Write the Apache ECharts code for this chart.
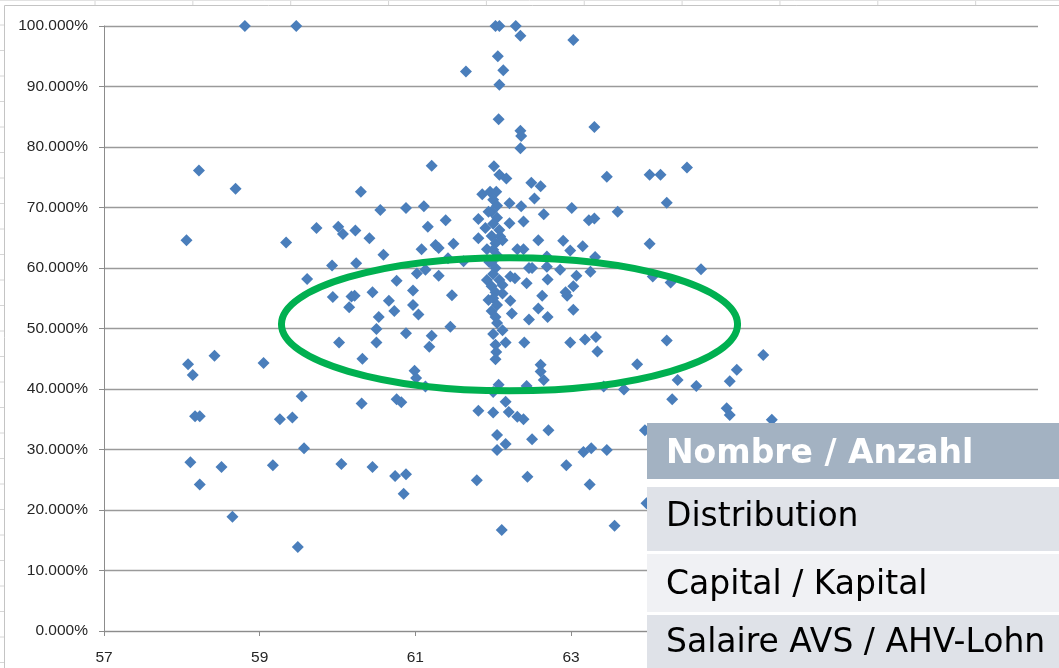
<!DOCTYPE html>
<html><head><meta charset="utf-8">
<script src="https://cdn.jsdelivr.net/npm/echarts@6/dist/echarts.min.js"></script>
<style>html,body{margin:0;padding:0;background:#fff}#c{width:1059px;height:668px}</style>
</head><body><div id="c"></div>
<script>
// Axis ranges
const xMin = 57, xMax = 69, xStep = 2;
const yMin = 0, yMax = 100, yStep = 10;

// Scatter values [age, share %]
const topPoints = [[58.81,100.0],[59.47,100.0],[62.03,100.0],[62.08,100.0],[62.29,100.0],[62.35,98.4],[63.03,97.7],[61.65,92.5],[62.06,95.0],[62.13,92.7],[62.08,90.3],[62.07,84.6],[62.35,82.7],[62.36,81.8],[62.35,79.8],[63.30,83.3]];
const upperPoints = [[62.01,76.8],[62.08,75.4],[62.17,74.8],[62.49,74.1],[62.61,73.5],[62.53,71.5],[63.46,75.1],[64.01,75.4],[64.15,75.4],[64.49,76.6],[64.23,70.8],[61.86,72.2],[61.96,72.6],[62.04,72.6],[62.21,70.7],[62.36,70.2],[63.01,69.9],[63.60,69.3],[62.65,68.9],[61.81,68.1],[61.90,66.6],[62.21,67.4],[62.39,67.7],[63.23,67.9],[63.30,68.2],[61.81,64.9],[62.09,65.2],[62.58,64.6],[62.90,64.5],[62.99,62.9],[63.15,63.6],[64.01,64.0],[62.31,63.1],[62.39,63.1],[61.92,63.1],[62.69,61.9],[63.31,61.8],[62.46,60.0],[62.50,60.0],[62.69,60.2],[62.86,59.7],[63.25,59.4],[62.22,58.6],[62.28,58.3],[62.70,58.1],[63.07,58.7],[64.05,58.6],[64.28,57.6],[64.67,59.8],[62.43,57.5],[63.03,57.0],[62.63,55.4],[62.95,55.4],[62.93,56.0],[62.22,54.6],[62.58,53.3],[62.24,52.5],[62.46,51.5],[62.70,51.9],[63.03,53.1]];
const lowerRightPoints = [[62.40,47.7],[62.99,47.7],[63.18,48.2],[63.32,48.6],[63.34,46.2],[64.23,48.0],[62.61,44.0],[62.61,42.9],[62.65,41.5],[63.85,44.1],[65.47,45.6],[65.13,43.2],[65.04,41.3],[64.37,41.5],[64.61,40.5],[63.42,40.4],[63.68,39.9],[62.43,40.5],[64.30,38.3],[65.00,36.8],[65.04,35.7],[65.58,34.9],[61.81,36.4],[62.16,37.9],[62.20,36.2],[62.31,35.4],[62.39,35.0],[62.71,33.2],[62.50,31.7],[63.16,29.6],[63.26,30.2],[63.46,29.9],[62.94,27.4],[61.79,24.9],[62.44,25.5],[63.24,24.2],[62.11,16.7],[63.56,17.4],[63.95,33.2],[63.97,21.1],[62.16,30.9],[62.05,32.4],[62.05,29.9],[62.00,36.1],[62.07,40.7],[62.16,47.7]];
const columnPoints = [[62.00,71.3],[62.05,70.3],[61.98,69.3],[61.94,69.3],[62.05,68.3],[62.00,67.3],[62.08,66.3],[61.98,65.3],[62.03,64.1],[62.12,64.6],[62.00,63.0],[62.06,62.0],[61.98,61.0],[61.95,61.0],[62.03,60.0],[62.00,59.0],[62.08,58.0],[61.92,58.0],[61.98,57.0],[62.12,57.2],[62.03,56.0],[62.12,55.8],[62.00,55.0],[61.94,54.7],[62.05,53.9],[61.98,52.9],[62.03,51.9],[62.05,50.9],[62.00,49.1],[62.12,49.7],[62.03,47.3],[62.04,46.1],[62.03,44.9],[62.00,39.5]];
const leftPoints = [[58.22,76.1],[58.69,73.1],[61.21,76.9],[60.30,72.6],[58.06,64.6],[59.34,64.2],[59.73,66.6],[60.01,66.8],[60.07,65.6],[60.23,66.2],[60.41,64.9],[60.55,69.6],[60.88,69.9],[61.11,70.2],[61.16,66.8],[61.39,67.9],[60.59,62.2],[61.08,63.1],[61.26,63.8],[61.30,63.3],[61.49,64.0],[59.93,60.4],[60.24,60.8],[59.61,58.2],[60.76,57.9],[61.02,59.1],[61.13,59.7],[61.30,58.7],[59.94,55.2],[60.18,55.3],[60.22,55.4],[60.15,53.5],[60.45,56.0],[60.66,54.6],[60.73,52.9],[60.97,56.3],[60.97,53.9],[61.04,52.3],[60.53,51.9],[61.47,55.5],[61.45,50.3],[60.50,49.9],[60.88,49.2],[60.50,47.7],[60.02,47.7],[61.21,48.8],[61.18,47.0],[60.32,45.0],[60.99,43.0],[61.01,41.8],[61.13,40.4],[59.54,38.8],[59.26,35.0],[59.42,35.3],[58.17,35.5],[58.23,35.5],[60.31,37.6],[60.76,38.3],[60.82,37.8],[58.08,44.1],[58.14,42.3],[58.42,45.5],[59.05,44.3],[58.11,27.9],[58.23,24.2],[58.51,27.1],[59.17,27.4],[59.57,30.2],[60.05,27.6],[60.45,27.1],[60.74,25.6],[60.88,25.9],[60.85,22.7],[58.65,18.9],[59.49,13.9],[61.62,61.1],[61.42,61.6]];

// Highlight ellipse (data units)
const highlight = {cx: 62.21, cy: 50.7, rx: 2.93, ry: 11.0};

// Overlay table
const tableRows = ['Nombre / Anzahl', 'Distribution', 'Capital / Kapital', 'Salaire AVS / AHV-Lohn'];

const allPoints = [].concat(topPoints, upperPoints, lowerRightPoints, columnPoints, leftPoints);

const chart = echarts.init(document.getElementById('c'), null, {renderer: 'canvas'});
const axisColor = '#8c8c8c';
const labelFont = {color: '#262626', fontFamily: 'Liberation Sans', fontSize: 15.5};
chart.setOption({
  animation: false,
  backgroundColor: '#ffffff',
  grid: {left: 104, top: 26, width: 934, height: 605},
  xAxis: {
    type: 'value', min: xMin, max: xMax, interval: xStep,
    axisLine: {show: true, onZero: false, lineStyle: {color: axisColor, width: 1}},
    axisTick: {show: true, length: 5, lineStyle: {color: axisColor}},
    axisLabel: Object.assign({margin: 19}, labelFont),
    splitLine: {show: false}
  },
  yAxis: {
    type: 'value', min: yMin, max: yMax, interval: yStep,
    axisLine: {show: true, onZero: false, lineStyle: {color: axisColor, width: 1}},
    axisTick: {show: true, length: 5, lineStyle: {color: axisColor}},
    axisLabel: Object.assign({margin: 16, formatter: v => v.toFixed(3) + '%'}, labelFont),
    splitLine: {show: true, lineStyle: {color: '#9a9a9a', width: 1.3}}
  },
  series: [{
    type: 'scatter', data: allPoints, symbol: 'diamond', symbolSize: 12,
    itemStyle: {color: '#4a7ebb', opacity: 1}, z: 3
  }]
});

const p0 = chart.convertToPixel({gridIndex: 0}, [highlight.cx, highlight.cy]);
const p1 = chart.convertToPixel({gridIndex: 0}, [highlight.cx + highlight.rx, highlight.cy + highlight.ry]);

const graphics = [];
// Excel sheet cell lines around chart frame
for (let i = 0; i < 11; i++) {
  const x = 95 + 97.85 * i;
  graphics.push({type: 'line', shape: {x1: x, y1: 0, x2: x, y2: 5}, style: {stroke: '#d6d6d6', lineWidth: 1}, silent: true});
}
for (let k = 0; k < 26; k++) {
  const y = 25 + 25.5 * k;
  graphics.push({type: 'line', shape: {x1: 0, y1: y, x2: 4, y2: y}, style: {stroke: '#d6d6d6', lineWidth: 1}, silent: true});
}
graphics.push({type: 'line', shape: {x1: 0, y1: 0.5, x2: 1059, y2: 0.5}, style: {stroke: '#e2e2e2', lineWidth: 1}});
graphics.push({type: 'rect', shape: {x: 4.5, y: 5.5, width: 1100, height: 700}, style: {fill: 'rgba(0,0,0,0)', stroke: '#c4c4c4', lineWidth: 1}});
// highlight ellipse
graphics.push({type: 'ellipse', z: 100, shape: {cx: p0[0], cy: p0[1], rx: p1[0] - p0[0], ry: p0[1] - p1[1]},
  style: {fill: 'rgba(0,0,0,0)', stroke: '#00b050', lineWidth: 7}});
// table overlay
const rowBoxes = [
  {y: 423, h: 56, fill: '#a3b2c2', color: '#ffffff', weight: 'bold', ty: 454},
  {y: 487, h: 64, fill: '#dfe2e8', color: '#000000', weight: 'normal', ty: 517},
  {y: 554, h: 58, fill: '#f0f1f4', color: '#000000', weight: 'normal', ty: 585},
  {y: 615, h: 60, fill: '#dfe2e8', color: '#000000', weight: 'normal', ty: 643}
];
graphics.push({type: 'rect', z: 110, shape: {x: 647, y: 479, width: 420, height: 200}, style: {fill: '#ffffff'}});
rowBoxes.forEach((b, i) => {
  graphics.push({type: 'rect', z: 111, shape: {x: 647, y: b.y, width: 420, height: b.h}, style: {fill: b.fill}});
  graphics.push({type: 'text', z: 112, x: 666, y: b.ty, style: {text: tableRows[i], fill: b.color,
    fontFamily: 'DejaVu Sans', fontSize: 33, fontWeight: b.weight, verticalAlign: 'middle', align: 'left'}});
});
chart.setOption({graphic: {elements: graphics}});
</script>
</body></html>
